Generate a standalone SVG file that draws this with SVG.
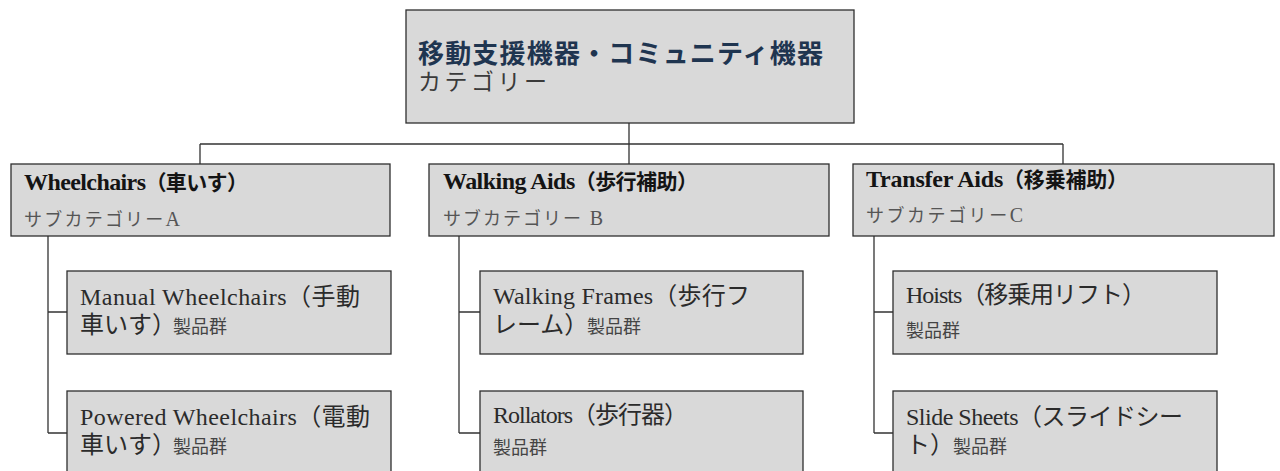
<svg xmlns="http://www.w3.org/2000/svg" width="1280" height="471" viewBox="0 0 1280 471">
<style>
.box{fill:#d9d9d9;stroke:#2e2e2e;stroke-width:1.3}
.ln{fill:none;stroke:#333;stroke-width:1.3}
text{font-family:"Liberation Serif","Noto Sans CJK JP",serif}
.t0{font-size:26px;font-weight:bold;fill:#1f3550}
.t0s{font-size:23px;fill:#3a3a3a}
.t1{font-size:21px;font-weight:bold;fill:#141414}
.L{font-size:24px}
.t1s{font-size:18px;fill:#555}
.l{font-size:20px}
.t2{font-size:24px;fill:#2b2b2b}
.p{font-family:"Noto Sans CJK JP",sans-serif;font-size:18px;fill:#444}
</style>
<g id="connectors">
<path class="ln" d="M629 123V144M200 144H1063M200 144V164M629 144V164M1063 144V164"/>
<path class="ln" d="M48 236V433M48 312H67M48 433H67"/>
<path class="ln" d="M459 236V433M459 312H480M459 433H480"/>
<path class="ln" d="M874 236V433M874 312H893M874 433H893"/>
</g>
<g id="root">
<rect class="box" x="406" y="10" width="448" height="113"/>
<text class="t0" x="418" y="63" textLength="405">移動支援機器・コミュニティ機器</text>
<text class="t0s" x="418" y="90" textLength="129">カテゴリー</text>
</g>
<g id="wheelchairs">
<rect class="box" x="11" y="164" width="379" height="72"/>
<text class="t1" x="24" y="190" textLength="224"><tspan class="L">Wheelchairs</tspan>（車いす）</text>
<text class="t1s" x="24" y="226" textLength="156">サブカテゴリー<tspan class="l">A</tspan></text>
</g>
<g id="walking-aids">
<rect class="box" x="429" y="164" width="400" height="72"/>
<text class="t1" x="443" y="189" textLength="255"><tspan class="L">Walking Aids</tspan>（歩行補助）</text>
<text class="t1s" x="443" y="225" textLength="160">サブカテゴリー <tspan class="l">B</tspan></text>
</g>
<g id="transfer-aids">
<rect class="box" x="853" y="164" width="421" height="72"/>
<text class="t1" x="866" y="187" textLength="262"><tspan class="L">Transfer Aids</tspan>（移乗補助）</text>
<text class="t1s" x="866" y="222" textLength="157">サブカテゴリー<tspan class="l">C</tspan></text>
</g>
<g id="manual-wheelchairs">
<rect class="box" x="67" y="271" width="324" height="83"/>
<text class="t2" x="80" y="305" textLength="280">Manual Wheelchairs（手動</text>
<text class="t2" x="80" y="333">車いす）<tspan class="p" x="173">製品群</tspan></text>
</g>
<g id="powered-wheelchairs">
<rect class="box" x="67" y="391" width="324" height="90"/>
<text class="t2" x="80" y="425" textLength="290">Powered Wheelchairs（電動</text>
<text class="t2" x="80" y="453">車いす）<tspan class="p" x="173">製品群</tspan></text>
</g>
<g id="walking-frames">
<rect class="box" x="480" y="271" width="323" height="83"/>
<text class="t2" x="493" y="304" textLength="257">Walking Frames（歩行フ</text>
<text class="t2" x="493" y="333">レーム）<tspan class="p" x="587">製品群</tspan></text>
</g>
<g id="rollators">
<rect class="box" x="480" y="391" width="323" height="90"/>
<text class="t2" x="493" y="423" textLength="195">Rollators（歩行器）</text>
<text class="p" x="493" y="454">製品群</text>
</g>
<g id="hoists">
<rect class="box" x="893" y="271" width="324" height="83"/>
<text class="t2" x="906" y="303" textLength="240">Hoists（移乗用リフト）</text>
<text class="p" x="906" y="337">製品群</text>
</g>
<g id="slide-sheets">
<rect class="box" x="893" y="391" width="324" height="90"/>
<text class="t2" x="906" y="425" textLength="277">Slide Sheets（スライドシー</text>
<text class="t2" x="906" y="453">ト）<tspan class="p" x="953">製品群</tspan></text>
</g>
</svg>
